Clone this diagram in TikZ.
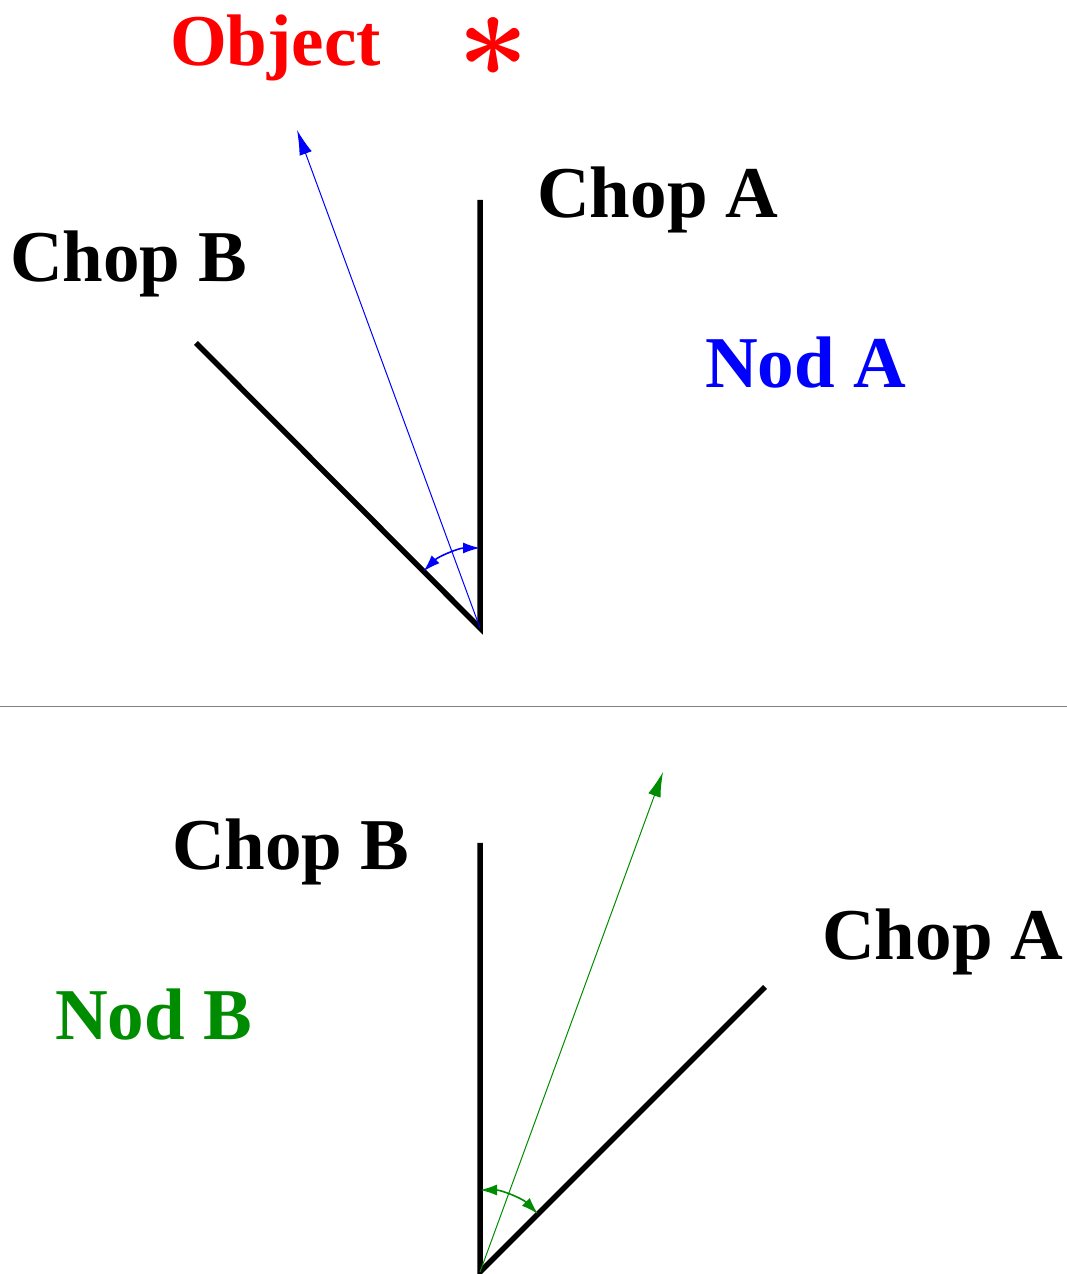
\documentclass[tikz,border=0pt]{standalone}
\usepackage{fontspec}
\setmainfont{Liberation Serif}
\usetikzlibrary{arrows.meta}
\definecolor{myred}{RGB}{255,0,0}
\definecolor{myblue}{RGB}{0,0,255}
\definecolor{mygreen}{RGB}{0,140,0}
\tikzset{
  lbl/.style={anchor=base west, inner sep=0pt, font=\fontsize{73}{73}\selectfont\bfseries},
  chop/.style={line width=5.5pt, black},
  ray/.style={line width=1pt, -{Latex[length=25pt,width=13pt]}},
  angarc/.style={line width=1.6pt, {Latex[length=17pt,width=11pt]}-{Latex[length=17pt,width=11pt]}},
  sep/.style={line width=1pt, gray}
}
\begin{document}
\begin{tikzpicture}[x=1pt,y=1pt]
\useasboundingbox (0,0) rectangle (1067,1274);
% top half
\coordinate (v1) at (480,646);
\coordinate (a1) at (480,1074);
\coordinate (b1) at (196,931);
\coordinate (o1) at (297,1144);
\draw[chop] (a1) -- (v1) -- (b1);
\draw[ray, myblue] (v1) -- (o1);
\draw[angarc, myblue] ([shift={(90:80)}]v1) arc[start angle=90, end angle=135, radius=80];
\node[lbl, myred] (obj) at (170,1208) {Object};
\node[inner sep=0pt, anchor=base, myred] (star) at (493,1197) {\scalebox{12.5}{\boldmath$\ast$}};
\node[lbl] (chopA1) at (537,1056) {Chop A};
\node[lbl] (chopB1) at (10,992) {Chop B};
\node[lbl, myblue] (nodA) at (705,886) {Nod A};
% separator
\coordinate (s1) at (0,567);
\coordinate (s2) at (1067,567);
\draw[sep] (s1) -- (s2);
% bottom half
\coordinate (v2) at (480,2);
\coordinate (b2) at (480,431);
\coordinate (a2) at (765,287);
\coordinate (o2) at (663,502);
\draw[chop] (b2) -- (v2) -- (a2);
\draw[ray, mygreen] (v2) -- (o2);
\draw[angarc, mygreen] ([shift={(90:82)}]v2) arc[start angle=90, end angle=45, radius=82];
\node[lbl] (chopB2) at (172,404) {Chop B};
\node[lbl] (chopA2) at (822,314) {Chop A};
\node[lbl, mygreen] (nodB) at (55,234) {Nod B};
\end{tikzpicture}
\end{document}
